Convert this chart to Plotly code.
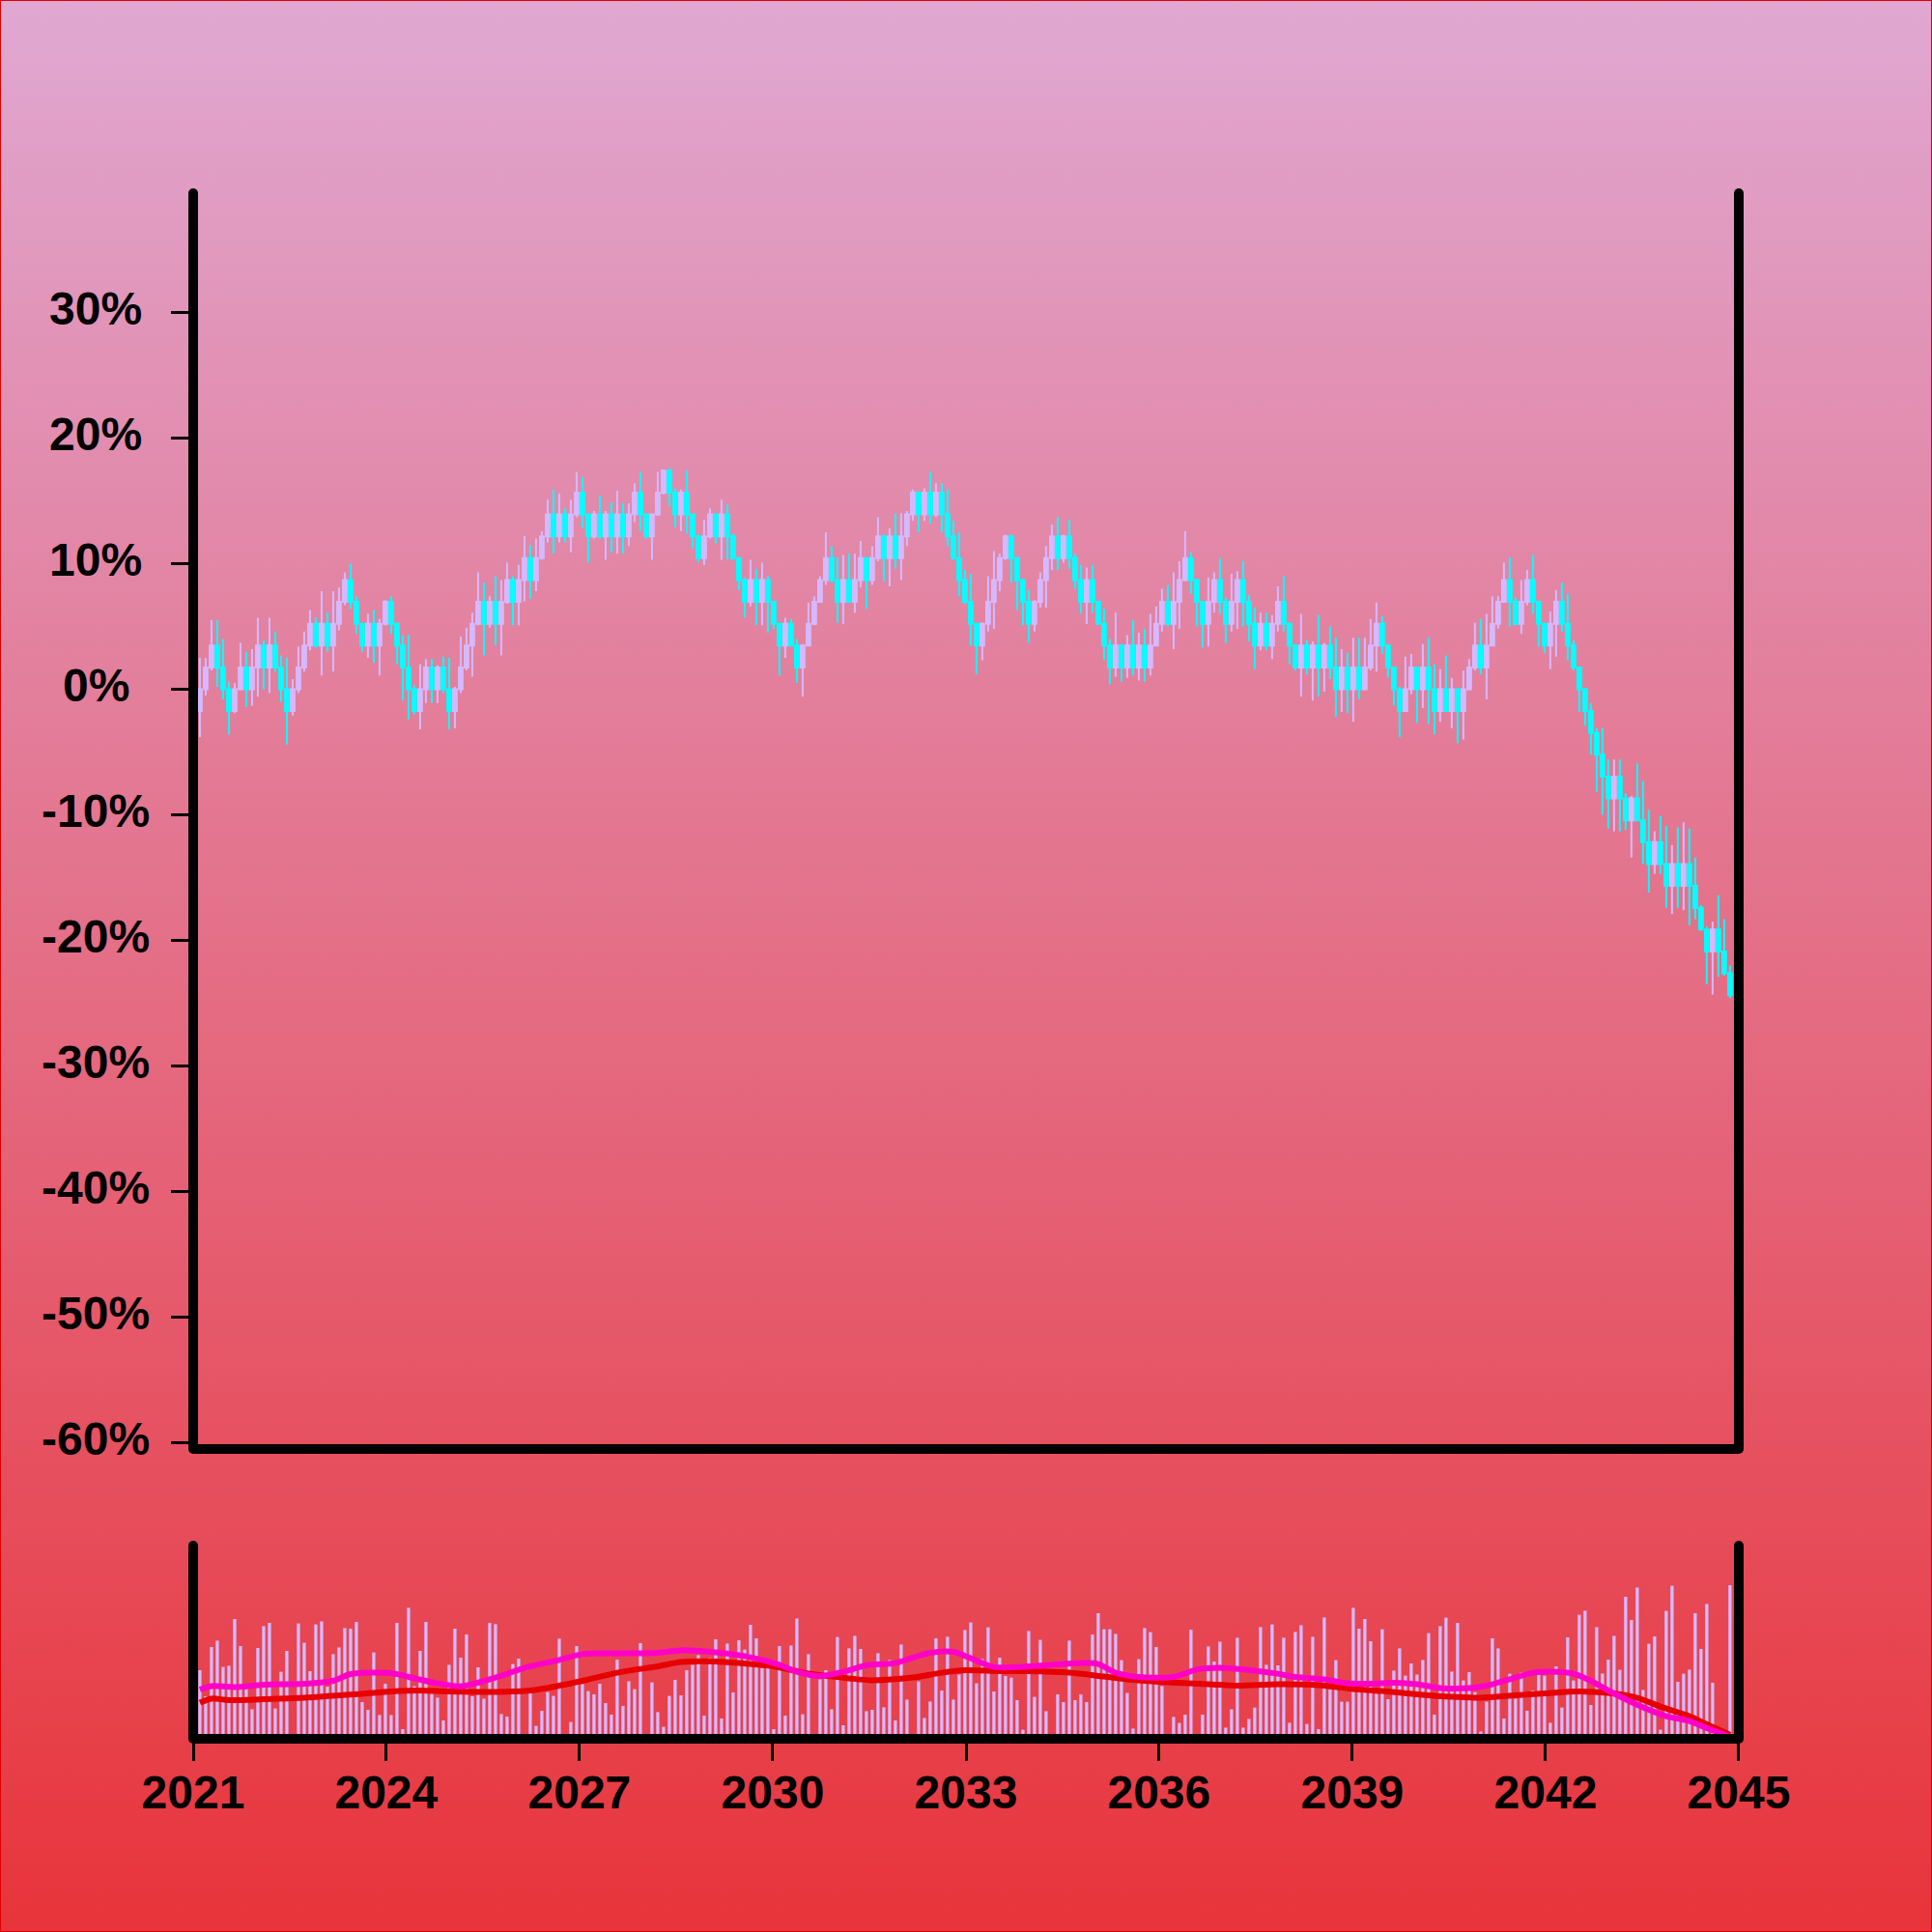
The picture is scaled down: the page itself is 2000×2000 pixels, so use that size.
import base64
import pandas as pd
import plotly.graph_objects as go

# ---------------- data ----------------
N_PERIODS = 265
DATES = pd.date_range("2021-02-08", "2044-11-12", periods=N_PERIODS)

OPEN = [
    -1.74, 0.0, 1.74, 3.48, 1.74, 0.0, -1.74, 0.0, 1.74, 0.0,
    1.74, 3.48, 1.74, 3.48, 1.74, 0.0, -1.74, 0.0, 1.74, 3.48,
    5.22, 3.48, 5.22, 3.48, 5.22, 6.96, 8.7, 6.96, 5.22, 3.48,
    5.22, 3.48, 5.22, 6.96, 5.22, 3.48, 1.74, 0.0, -1.74, 0.0,
    1.74, 0.0, 1.74, 0.0, -1.74, 0.0, 1.74, 3.48, 5.22, 6.96,
    5.22, 6.96, 5.22, 6.96, 8.7, 6.96, 8.7, 10.44, 8.7, 10.44,
    12.18, 13.92, 12.18, 13.92, 12.18, 13.92, 15.66, 13.92, 12.18, 13.92,
    12.18, 13.92, 12.18, 13.92, 12.18, 13.92, 15.66, 13.92, 12.18, 13.92,
    15.66, 17.4, 15.66, 13.92, 15.66, 13.92, 12.18, 10.44, 12.18, 13.92,
    12.18, 13.92, 12.18, 10.44, 8.7, 6.96, 8.7, 6.96, 8.7, 6.96,
    5.22, 3.48, 5.22, 3.48, 1.74, 3.48, 5.22, 6.96, 8.7, 10.44,
    8.7, 6.96, 8.7, 6.96, 8.7, 10.44, 8.7, 10.44, 12.18, 10.44,
    12.18, 10.44, 12.18, 13.92, 15.66, 13.92, 15.66, 13.92, 15.66, 13.92,
    12.18, 10.44, 8.7, 6.96, 5.22, 3.48, 5.22, 6.96, 8.7, 10.44,
    12.18, 10.44, 8.7, 6.96, 5.22, 6.96, 8.7, 10.44, 12.18, 10.44,
    12.18, 10.44, 8.7, 6.96, 8.7, 6.96, 5.22, 3.48, 1.74, 3.48,
    1.74, 3.48, 1.74, 3.48, 1.74, 3.48, 5.22, 6.96, 5.22, 6.96,
    8.7, 10.44, 8.7, 6.96, 5.22, 6.96, 8.7, 6.96, 5.22, 6.96,
    8.7, 6.96, 5.22, 3.48, 5.22, 3.48, 5.22, 6.96, 5.22, 3.48,
    1.74, 3.48, 1.74, 3.48, 1.74, 3.48, 1.74, 0.0, 1.74, 0.0,
    1.74, 0.0, 1.74, 3.48, 5.22, 3.48, 1.74, 0.0, -1.74, 0.0,
    1.74, 0.0, 1.74, 0.0, -1.74, 0.0, -1.74, 0.0, -1.74, 0.0,
    1.74, 3.48, 1.74, 3.48, 5.22, 6.96, 8.7, 6.96, 5.22, 6.96,
    8.7, 6.96, 5.22, 3.48, 5.22, 6.96, 5.22, 3.48, 1.74, 0.0,
    -1.74, -3.48, -5.22, -6.96, -8.7, -6.96, -8.7, -10.44, -8.7, -10.44,
    -12.18, -13.92, -12.18, -13.92, -15.66, -13.92, -15.66, -13.92, -15.66, -17.4,
    -19.14, -20.88, -19.14, -20.88, -22.62,
]

CLOSE = [
    0.0, 1.74, 3.48, 1.74, 0.0, -1.74, 0.0, 1.74, 0.0, 1.74,
    3.48, 1.74, 3.48, 1.74, 0.0, -1.74, 0.0, 1.74, 3.48, 5.22,
    3.48, 5.22, 3.48, 5.22, 6.96, 8.7, 6.96, 5.22, 3.48, 5.22,
    3.48, 5.22, 6.96, 5.22, 3.48, 1.74, 0.0, -1.74, 0.0, 1.74,
    0.0, 1.74, 0.0, -1.74, 0.0, 1.74, 3.48, 5.22, 6.96, 5.22,
    6.96, 5.22, 6.96, 8.7, 6.96, 8.7, 10.44, 8.7, 10.44, 12.18,
    13.92, 12.18, 13.92, 12.18, 13.92, 15.66, 13.92, 12.18, 13.92, 12.18,
    13.92, 12.18, 13.92, 12.18, 13.92, 15.66, 13.92, 12.18, 13.92, 15.66,
    17.4, 15.66, 13.92, 15.66, 13.92, 12.18, 10.44, 12.18, 13.92, 12.18,
    13.92, 12.18, 10.44, 8.7, 6.96, 8.7, 6.96, 8.7, 6.96, 5.22,
    3.48, 5.22, 3.48, 1.74, 3.48, 5.22, 6.96, 8.7, 10.44, 8.7,
    6.96, 8.7, 6.96, 8.7, 10.44, 8.7, 10.44, 12.18, 10.44, 12.18,
    10.44, 12.18, 13.92, 15.66, 13.92, 15.66, 13.92, 15.66, 13.92, 12.18,
    10.44, 8.7, 6.96, 5.22, 3.48, 5.22, 6.96, 8.7, 10.44, 12.18,
    10.44, 8.7, 6.96, 5.22, 6.96, 8.7, 10.44, 12.18, 10.44, 12.18,
    10.44, 8.7, 6.96, 8.7, 6.96, 5.22, 3.48, 1.74, 3.48, 1.74,
    3.48, 1.74, 3.48, 1.74, 3.48, 5.22, 6.96, 5.22, 6.96, 8.7,
    10.44, 8.7, 6.96, 5.22, 6.96, 8.7, 6.96, 5.22, 6.96, 8.7,
    6.96, 5.22, 3.48, 5.22, 3.48, 5.22, 6.96, 5.22, 3.48, 1.74,
    3.48, 1.74, 3.48, 1.74, 3.48, 1.74, 0.0, 1.74, 0.0, 1.74,
    0.0, 1.74, 3.48, 5.22, 3.48, 1.74, 0.0, -1.74, 0.0, 1.74,
    0.0, 1.74, 0.0, -1.74, 0.0, -1.74, 0.0, -1.74, 0.0, 1.74,
    3.48, 1.74, 3.48, 5.22, 6.96, 8.7, 6.96, 5.22, 6.96, 8.7,
    6.96, 5.22, 3.48, 5.22, 6.96, 5.22, 3.48, 1.74, 0.0, -1.74,
    -3.48, -5.22, -6.96, -8.7, -6.96, -8.7, -10.44, -8.7, -10.44, -12.18,
    -13.92, -12.18, -13.92, -15.66, -13.92, -15.66, -13.92, -15.66, -17.4, -19.14,
    -20.88, -19.14, -20.88, -22.62, -24.36,
]

HIGH = [
    2.5, 2.5, 5.5, 5.5, 4.0, 0.6, 0.5, 3.7, 3.0, 3.2,
    5.7, 3.9, 5.7, 4.6, 2.7, 2.5, 0.8, 3.4, 4.6, 6.3,
    5.7, 7.8, 6.1, 7.8, 8.1, 9.3, 10.0, 7.4, 5.3, 6.0,
    6.3, 5.6, 7.1, 7.4, 5.3, 4.3, 4.3, 0.3, 2.0, 2.4,
    2.4, 1.9, 2.6, 2.5, 0.2, 4.2, 4.9, 6.1, 9.3, 8.5,
    7.4, 9.0, 8.7, 10.1, 9.0, 9.9, 12.2, 11.5, 12.0, 12.6,
    15.1, 15.9, 15.6, 14.4, 15.1, 17.3, 16.9, 14.0, 14.2, 15.4,
    14.2, 14.9, 15.8, 14.8, 14.8, 16.4, 17.3, 14.0, 14.0, 17.3,
    17.5, 17.6, 16.0, 15.9, 17.4, 14.0, 12.3, 13.5, 14.4, 14.0,
    15.1, 14.7, 12.4, 10.5, 8.9, 10.3, 9.6, 10.1, 9.0, 7.0,
    5.3, 5.7, 5.6, 4.0, 3.6, 6.9, 7.4, 9.0, 12.5, 11.4,
    10.5, 10.7, 10.8, 10.8, 11.8, 10.5, 11.4, 13.7, 12.3, 12.8,
    14.0, 14.0, 14.2, 15.9, 15.7, 16.0, 17.3, 16.4, 16.4, 15.9,
    13.4, 12.5, 9.5, 9.2, 5.3, 5.3, 9.0, 11.0, 10.8, 12.3,
    12.3, 10.5, 8.8, 7.9, 7.1, 9.3, 11.4, 13.1, 13.7, 12.3,
    13.5, 10.8, 9.9, 9.7, 9.9, 7.0, 6.4, 4.0, 6.1, 3.6,
    4.3, 5.5, 4.5, 4.8, 6.0, 6.6, 8.0, 8.3, 9.3, 10.2,
    12.6, 10.9, 8.8, 7.0, 8.9, 9.3, 10.4, 7.3, 9.2, 9.4,
    10.2, 7.5, 6.5, 6.1, 6.1, 5.9, 8.2, 9.0, 5.3, 3.6,
    6.0, 3.9, 3.8, 5.9, 3.7, 5.0, 4.1, 3.2, 2.9, 4.1,
    4.1, 4.1, 5.6, 6.9, 5.8, 3.6, 1.8, 0.2, 2.6, 2.8,
    1.8, 3.6, 4.1, 2.0, 1.6, 2.7, 0.9, 0.1, 1.5, 2.4,
    5.3, 5.6, 6.0, 7.4, 7.4, 10.1, 10.5, 7.3, 8.7, 9.5,
    10.7, 7.0, 5.3, 6.2, 7.9, 8.5, 7.6, 3.9, 1.8, 0.1,
    -1.1, -3.1, -3.1, -5.6, -5.6, -5.6, -8.3, -8.5, -5.9, -7.3,
    -9.6, -11.3, -10.1, -10.9, -12.4, -11.0, -10.6, -11.1, -13.4, -17.2,
    -18.9, -18.5, -16.4, -18.3, -22.0,
]

LOW = [
    -3.8, -0.5, 1.5, 0.2, -0.8, -3.6, -1.9, -0.1, -1.4, -1.3,
    -0.6, 0.0, -0.3, 1.4, -1.0, -4.4, -2.1, -0.3, 1.4, 3.1,
    3.3, 1.1, 3.0, 1.4, 4.7, 6.7, 6.4, 4.4, 3.0, 2.5,
    2.1, 1.1, 5.1, 4.4, 2.0, -0.9, -2.4, -2.0, -3.2, -1.1,
    -1.1, -1.1, -0.3, -3.2, -3.1, -0.3, 1.5, 1.0, 5.1, 2.7,
    4.9, 3.5, 2.7, 6.8, 5.1, 5.1, 7.0, 7.2, 7.8, 10.3,
    11.7, 10.8, 11.7, 11.7, 10.9, 13.7, 12.8, 10.1, 12.0, 12.0,
    10.3, 10.9, 10.8, 10.8, 11.4, 13.3, 12.6, 12.0, 10.3, 13.8,
    15.5, 14.6, 12.9, 12.6, 12.4, 11.2, 10.1, 9.9, 12.0, 11.6,
    10.3, 10.3, 10.3, 7.9, 5.7, 6.6, 5.1, 5.1, 4.5, 4.8,
    1.1, 2.5, 3.4, 0.5, -0.6, 3.4, 5.1, 6.9, 8.3, 8.5,
    5.3, 5.2, 6.9, 6.1, 8.1, 6.4, 8.3, 10.2, 8.6, 8.2,
    9.6, 8.7, 11.4, 13.4, 12.5, 13.4, 13.2, 13.7, 12.5, 11.4,
    10.3, 7.4, 6.8, 3.5, 1.2, 2.3, 4.6, 4.8, 7.8, 10.3,
    8.5, 6.3, 5.1, 3.7, 4.6, 6.5, 6.5, 9.5, 9.5, 10.1,
    9.6, 8.0, 6.0, 5.2, 6.1, 5.1, 2.3, 0.4, 1.0, 0.6,
    0.9, 1.1, 0.7, 0.6, 1.1, 3.4, 4.6, 5.0, 3.2, 4.8,
    8.6, 7.6, 5.0, 3.3, 3.4, 6.1, 6.0, 3.7, 4.6, 4.8,
    5.0, 3.8, 1.6, 3.1, 3.1, 2.4, 4.6, 4.6, 2.0, 1.5,
    -0.6, 1.2, -0.9, -0.6, -0.2, 0.8, -2.2, -1.8, -1.9, -2.6,
    -0.8, -0.1, 1.5, 1.4, 2.8, 0.9, -1.3, -3.8, -1.8, -0.4,
    -2.7, -1.5, -2.8, -3.6, -2.6, -1.8, -3.1, -4.3, -4.0, -0.1,
    1.5, 1.2, -0.8, 3.4, 4.8, 6.9, 5.0, 5.1, 4.4, 6.7,
    6.0, 3.4, 2.9, 1.6, 2.6, 4.6, 2.3, 1.5, -1.8, -2.9,
    -5.2, -8.2, -10.0, -11.1, -11.3, -11.3, -11.2, -13.4, -10.5, -13.9,
    -16.2, -14.7, -14.7, -17.4, -17.9, -17.4, -17.6, -18.8, -18.3, -19.2,
    -23.5, -24.3, -22.9, -22.8, -24.6,
]

VOLUME = [
    35.5, 22, 47.5, 50.8, 37.2, 37.8, 62, 48, 25.8, 15.3,
    47, 58.3, 60, 15.7, 34.7, 45.5, 0.5, 59.7, 49.7, 35,
    59.2, 60.8, 27, 43.8, 47.3, 57.3, 57, 60.5, 19, 15,
    44.7, 12.3, 28.5, 12.3, 60, 5, 67.8, 27.2, 45.5, 60.5,
    23.3, 21.3, 9.5, 38.3, 57, 42, 54, 22, 37, 20.8,
    60, 59.3, 12.8, 11.5, 38.7, 41.5, 0.5, 23.5, 6.7, 14.5,
    24.2, 22.2, 51.8, 0.5, 8.7, 48, 28.3, 24.7, 23, 28.5,
    18.5, 12.5, 41, 17, 29.8, 25.7, 49.5, 0.5, 29.2, 13.8,
    6.2, 22.2, 30.5, 22.5, 35.5, 38.2, 43.3, 12, 41.7, 51.5,
    10.5, 49.3, 24, 51, 46.2, 59, 52, 36.7, 36.7, 5,
    48, 12, 48.3, 62.3, 12.7, 43.8, 0.5, 30.8, 35.5, 15.3,
    52.7, 7, 46.8, 53.3, 46.5, 14.3, 15, 44.3, 16.3, 40.8,
    9.5, 48.8, 20.3, 0.5, 29.7, 10.8, 19.3, 52, 25, 52.8,
    20.3, 33.3, 56.3, 60.2, 28.7, 41.3, 57.7, 24.5, 42, 32.5,
    31.7, 20, 4.7, 55.8, 21.7, 51.2, 14.3, 0.5, 23, 19,
    50.8, 20, 23, 19, 54, 65, 56.7, 56.7, 54.3, 40.7,
    23.7, 5.3, 41.2, 57.3, 55.2, 47.5, 27.3, 0.5, 11.3, 8.2,
    12.5, 56.5, 0.5, 12.5, 47.8, 40, 50.3, 5.8, 15.3, 52.3,
    5.8, 10.3, 16.2, 57.8, 38.3, 59.2, 38, 52.3, 8.3, 55.3,
    58.8, 7.7, 52.8, 5, 62.8, 25.8, 40.7, 19.2, 19.2, 67.8,
    57, 62, 50.5, 23.3, 56.7, 20.5, 35.3, 46.8, 32.7, 39,
    33.3, 40.8, 54.7, 12.5, 58.3, 62.7, 34.8, 60, 30.2, 34.5,
    24.2, 3.8, 19.2, 52, 46.8, 10.5, 33.7, 20.8, 34.2, 14.5,
    25, 33.3, 32.7, 8.3, 37.5, 16.2, 52.5, 30.2, 64.2, 66.3,
    17.5, 57.8, 33.8, 41, 53.3, 35.7, 73.5, 61.5, 78.3, 25.3,
    49.2, 53, 4.7, 66.2, 79.2, 29.5, 33.7, 35.8, 65, 46.5,
    69.8, 29, 2, 2, 79.5,
]

# moving-average curves drawn in the lower pane (sampled at candle indices)
MA_FAST_IDX = [0, 2, 6, 11, 18, 23, 26, 33, 37, 41, 45, 51, 56, 62, 66, 73, 79, 83,
               88, 94, 100, 103, 107, 111, 115, 120, 123, 126, 130, 133, 137, 142,
               147, 153, 155, 158, 162, 168, 172, 176, 182, 186, 189, 194, 198,
               202, 206, 210, 214, 219, 222, 226, 230, 233, 237, 240, 243, 247,
               250, 253, 257, 260, 262, 264]
MA_FAST_VAL = [25.5, 27.3, 26.8, 28, 28.5, 30, 33.5, 34, 31.3, 28.7, 27.2, 31.7,
               36.7, 40.8, 43.8, 44.2, 44.5, 45.8, 45, 42.8, 38.3, 34.7, 32.5,
               34.7, 38, 39.2, 42, 44.5, 45, 41.7, 37.2, 37.2, 38.3, 39.2, 38.7,
               34.2, 32, 32, 35.8, 36.7, 35.3, 33.7, 32, 30.8, 28.7, 28.5, 29,
               28.3, 26.3, 26.2, 27.5, 30.8, 34.2, 34.7, 33.7, 30, 25, 19, 15,
               11.7, 9.2, 5.5, 3.3, 1]

MA_SLOW_IDX = [0, 2, 5, 11, 18, 24, 28, 33, 38, 43, 51, 57, 62, 66, 72, 79, 83, 89,
               95, 99, 105, 112, 116, 123, 128, 132, 138, 143, 150, 156, 161, 167,
               174, 179, 186, 193, 199, 204, 210, 216, 221, 227, 232, 238, 243,
               248, 252, 257, 260, 263, 264]
MA_SLOW_VAL = [18.7, 20.8, 20, 20.5, 21.2, 22.5, 23.3, 24.5, 25, 24.5, 24.3, 25,
               27.5, 30, 34.2, 37.5, 39.7, 40, 38.7, 37.5, 33.8, 31.3, 30.3, 31.7,
               34.2, 35.5, 35, 35, 34.2, 32.2, 30.5, 29.2, 28.3, 27.5, 28.3, 27.8,
               25.8, 24.7, 23, 21.7, 21.3, 22.5, 23.5, 24.5, 23.7, 21.2, 16.7,
               11.7, 7.5, 3.5, 2]

X_TICK_VALUES = ["2021-01-01", "2024-01-01", "2027-01-01", "2030-01-01", "2033-01-01",
                 "2036-01-01", "2039-01-01", "2042-01-01", "2045-01-01"]
X_TICK_LABELS = ["2021", "2024", "2027", "2030", "2033", "2036", "2039", "2042", "2045"]
Y_TICK_VALUES = [-60, -50, -40, -30, -20, -10, 0, 10, 20, 30]
Y_TICK_LABELS = ["-60%", "-50%", "-40%", "-30%", "-20%", "-10%", "0%", "10%", "20%", "30%"]

# ---------------- styling ----------------
W, H = 2000, 2000
ML, MR, MT, MB = 200, 200, 200, 200
PW, PH = W - ML - MR, H - MT - MB
LAV = "#D5B9FF"
CYAN = "#00FFFF"
PINK = "#FF00C8"
RED = "#E60000"
BG_TOP = "#E0A8D2"
BG_BOT = "#E8343A"
FONT = dict(family="Liberation Sans, Arial, Helvetica, sans-serif", size=48,
            color="black", weight="bold")
FRAME_W = 10
YLABEL_CENTER_PX = 99   # y tick labels are centred in the left margin

high = [max(h, o, c) for h, o, c in zip(HIGH, OPEN, CLOSE)]
low = [min(l, o, c) for l, o, c in zip(LOW, OPEN, CLOSE)]

fig = go.Figure()
fig.add_trace(go.Candlestick(
    x=DATES, open=OPEN, high=high, low=low, close=CLOSE,
    increasing=dict(line=dict(color=LAV, width=2), fillcolor=LAV),
    decreasing=dict(line=dict(color=CYAN, width=2), fillcolor=CYAN),
    whiskerwidth=0, xaxis="x", yaxis="y", showlegend=False, hoverinfo="skip",
))
fig.add_trace(go.Bar(
    x=DATES, y=VOLUME, marker=dict(color=LAV, line=dict(width=0)),
    xaxis="x2", yaxis="y2", showlegend=False, hoverinfo="skip",
))
fig.add_trace(go.Scatter(
    x=[DATES[i] for i in MA_SLOW_IDX], y=MA_SLOW_VAL, mode="lines",
    line=dict(color=RED, width=6, shape="spline", smoothing=0.8),
    xaxis="x2", yaxis="y2", showlegend=False, hoverinfo="skip",
))
fig.add_trace(go.Scatter(
    x=[DATES[i] for i in MA_FAST_IDX], y=MA_FAST_VAL, mode="lines",
    line=dict(color=PINK, width=6, shape="spline", smoothing=0.8),
    xaxis="x2", yaxis="y2", showlegend=False, hoverinfo="skip",
))

XRANGE = ["2020-12-31 23:00", "2045-01-01 01:00"]
MAIN_DOMAIN = [(H - MB - 1500) / PH, 1.0]
VOL_DOMAIN = [0.0, (H - MB - 1600) / PH]

common_x = dict(range=XRANGE, type="date", showgrid=False, zeroline=False, showline=False)
fig.update_layout(
    width=W, height=H, autosize=False,
    margin=dict(l=ML, r=MR, t=MT, b=MB, pad=0),
    paper_bgcolor="#E47090", plot_bgcolor="rgba(0,0,0,0)",
    font=FONT, showlegend=False, boxgap=0.1, bargap=0.45,
    xaxis=dict(domain=[0, 1], anchor="y", showticklabels=False, ticks="",
               rangeslider=dict(visible=False), **common_x),
    yaxis=dict(domain=MAIN_DOMAIN, anchor="x", range=[-60.5, 39.5],
               tickmode="array", tickvals=Y_TICK_VALUES, ticktext=Y_TICK_LABELS,
               showticklabels=False,
               ticks="outside", ticklen=22, tickwidth=3, tickcolor="black",
               showgrid=False, zeroline=False, showline=False),
    xaxis2=dict(domain=[0, 1], anchor="y2", tickmode="array",
                tickvals=X_TICK_VALUES, ticktext=X_TICK_LABELS,
                ticks="outside", ticklen=22, tickwidth=3, tickcolor="black",
                tickfont=FONT, ticklabelstandoff=-9, **common_x),
    yaxis2=dict(domain=VOL_DOMAIN, anchor="x2", range=[0, 100], visible=False,
                showgrid=False, zeroline=False),
)

# y tick labels, centred in the left margin (as in the reference)
for val, lab in zip(Y_TICK_VALUES, Y_TICK_LABELS):
    fig.add_annotation(x=(YLABEL_CENTER_PX - ML) / PW, xref="paper", y=val, yref="y",
                       text=lab, showarrow=False, xanchor="center", yanchor="middle",
                       yshift=4, font=FONT)

# gradient background
svg = ('<svg xmlns="http://www.w3.org/2000/svg" width="20" height="1000" viewBox="0 0 20 1000" '
       'preserveAspectRatio="none"><defs><linearGradient id="g" x1="0" y1="0" x2="0" y2="1">'
       f'<stop offset="0" stop-color="{BG_TOP}"/><stop offset="1" stop-color="{BG_BOT}"/>'
       '</linearGradient></defs><rect x="0" y="0" width="20" height="1000" fill="url(#g)"/></svg>')
src = "data:image/svg+xml;base64," + base64.b64encode(svg.encode()).decode()
fig.add_layout_image(dict(source=src, xref="paper", yref="paper",
                          x=-ML / PW, y=1 + MT / PH, sizex=W / PW, sizey=H / PH,
                          sizing="stretch", xanchor="left", yanchor="top", layer="below"))

# frames (lines centred on plot edges, round joints)
shapes = []
for xr, yr in (("x domain", "y domain"), ("x2 domain", "y2 domain")):
    line = dict(color="black", width=FRAME_W)
    shapes.append(dict(type="line", xref=xr, yref=yr, x0=0, x1=0, y0=0, y1=1, line=line, layer="above"))
    shapes.append(dict(type="line", xref=xr, yref=yr, x0=1, x1=1, y0=0, y1=1, line=line, layer="above"))
    shapes.append(dict(type="line", xref=xr, yref=yr, x0=0, x1=1, y0=0, y1=0, line=line, layer="above"))
    r = FRAME_W / 2
    for cx, cy in ((0, 0), (1, 0), (0, 1), (1, 1)):
        shapes.append(dict(type="circle", xref=xr, yref=yr, xsizemode="pixel", ysizemode="pixel",
                           xanchor=cx, yanchor=cy, x0=-r, x1=r, y0=-r, y1=r,
                           fillcolor="black", line=dict(width=0), layer="above"))
# thin red border around the whole picture
shapes.append(dict(type="rect", xref="paper", yref="paper",
                   x0=-ML / PW, x1=1 + MR / PW, y0=-MB / PH, y1=1 + MT / PH,
                   line=dict(color="#E00000", width=2), fillcolor="rgba(0,0,0,0)", layer="above"))
fig.update_layout(shapes=shapes)

fig.write_html("out.html", include_plotlyjs=True, full_html=True,
               config={"displayModeBar": False},
               post_script="document.body.style.margin='0';")
